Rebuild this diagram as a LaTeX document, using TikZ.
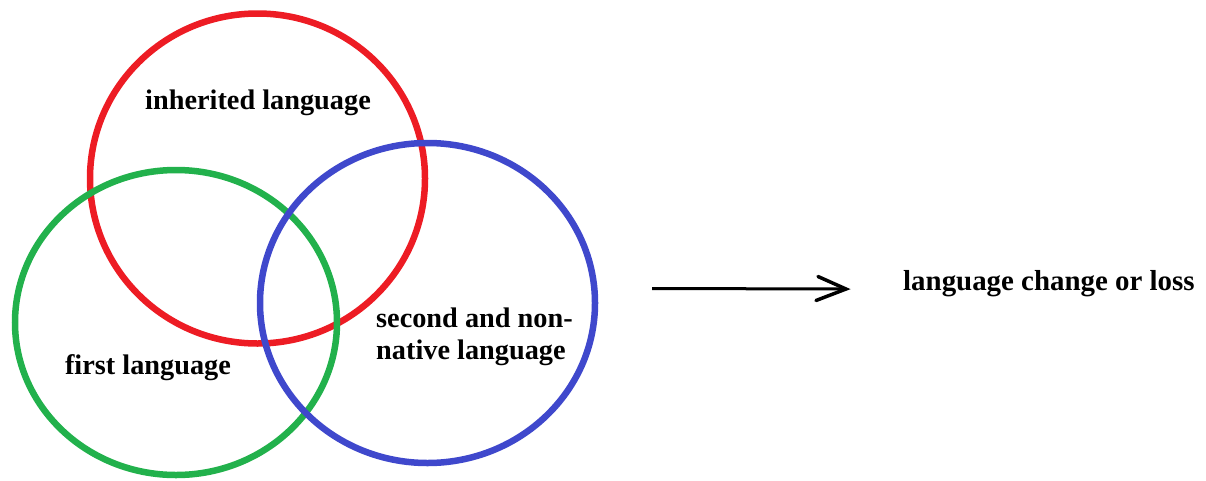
\documentclass[tikz,border=0pt]{standalone}
\usepackage{fontspec}
\setmainfont{Liberation Serif}
\definecolor{pred}{RGB}{237,28,36}
\definecolor{pgreen}{RGB}{34,177,76}
\definecolor{pblue}{RGB}{63,72,204}
\begin{document}
\begin{tikzpicture}[x=1pt,y=-1pt,
  ring/.style={line width=6.5pt},
  lbl/.style={font=\fontsize{28.3}{32}\selectfont\bfseries, inner sep=0pt},
  arr/.style={line width=3pt},
  tip/.style={line width=3.5pt, line cap=round}]
\useasboundingbox (0,0) rectangle (1206,480);
\draw[ring, pred] (257.5,178.5) ellipse [x radius=167.5, y radius=165];
\draw[ring, pgreen] (176,322.5) ellipse [x radius=161, y radius=152.5];
\draw[ring, pblue] (427.5,303) ellipse [x radius=167.5, y radius=160];
\node[lbl] (inh) at (258,103) {inherited language};
\node[lbl] (first) at (148,368) {first language};
\node[lbl, align=left, anchor=west] (second) at (376,337) {second and non-\\native language};
\node[lbl, anchor=west, font=\fontsize{28.9}{32}\selectfont\bfseries] (change) at (903,284) {language change or loss};
\coordinate (a0) at (652,288.5);
\coordinate (a1) at (846,289);
\coordinate (t1) at (818,276.5);
\coordinate (t2) at (816,300.5);
\draw[arr] (a0) -- (a1);
\draw[tip] (t1) -- (a1) -- (t2);
\end{tikzpicture}
\end{document}
